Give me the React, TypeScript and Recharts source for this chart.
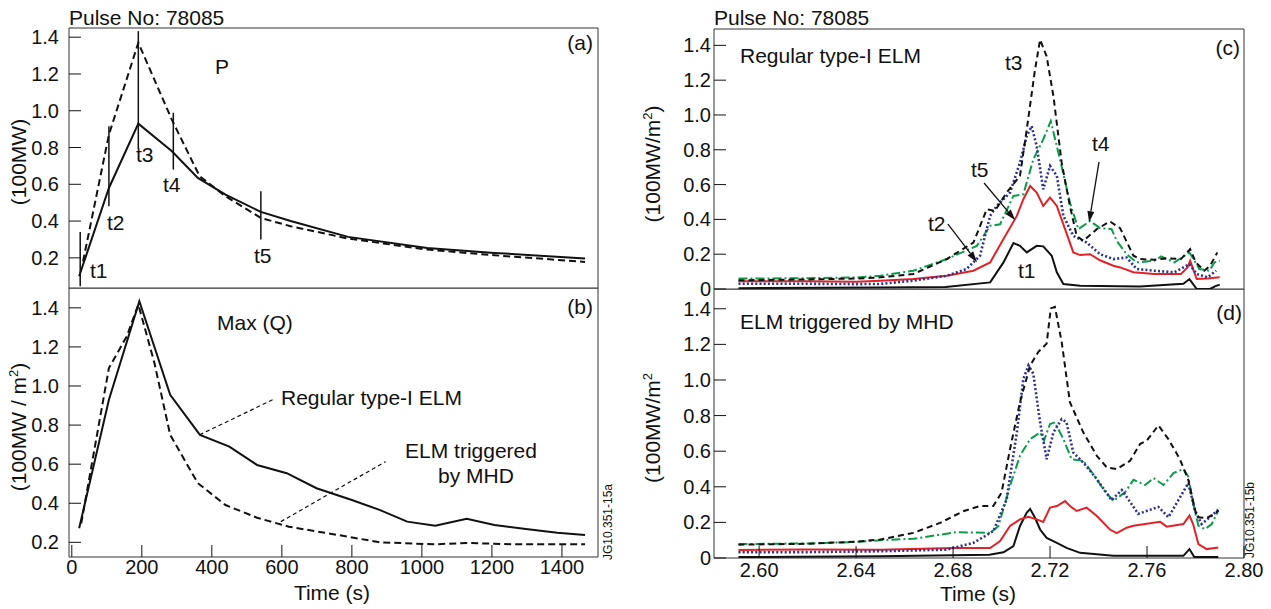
import React from "react";
import { LineChart, Line, XAxis, YAxis, ReferenceArea, ReferenceLine } from "recharts";

// ---------- panel (a): P, regular ELM (solid) vs MHD-triggered (dashed)
const aSolidTime = [21, 106, 190, 286, 360, 439, 540, 625, 789, 1015, 1207, 1466];
const aSolidVal = [0.1, 0.58, 0.93, 0.78, 0.635, 0.544, 0.45, 0.4, 0.314, 0.254, 0.227, 0.196];
const aDashTime = [32, 106, 190, 286, 365, 439, 540, 625, 789, 1015, 1207, 1466];
const aDashVal = [0.18, 0.87, 1.37, 0.95, 0.644, 0.535, 0.417, 0.372, 0.305, 0.245, 0.214, 0.178];

// time markers t1..t5 drawn on panel (a)
const markTime = [24, 106, 190, 290, 540];
const markTop = [0.341, 0.916, 1.433, 0.989, 0.562];
const markBottom = [0.045, 0.48, 0.79, 0.68, 0.3];

// ---------- panel (b): Max(Q)
const bSolidTime = [21, 106, 193, 281, 366, 450, 529, 614, 699, 800, 879, 958, 1038, 1128, 1207, 1297, 1387, 1466];
const bSolidVal = [0.272, 0.93, 1.434, 0.955, 0.75, 0.69, 0.596, 0.554, 0.477, 0.417, 0.366, 0.306, 0.285, 0.32, 0.289, 0.268, 0.249, 0.237];
const bDashTime = [27, 106, 157, 190, 236, 281, 360, 439, 529, 620, 789, 879, 1038, 1128, 1263, 1466];
const bDashVal = [0.297, 1.092, 1.254, 1.417, 1.118, 0.75, 0.503, 0.391, 0.326, 0.28, 0.229, 0.2, 0.19, 0.197, 0.19, 0.19];

// ---------- panel (c): regular type-I ELM profiles
const cT1Time = [2.5915, 2.65, 2.677, 2.6953, 2.7008, 2.7049, 2.7076, 2.7104, 2.7145, 2.7172, 2.7207, 2.7228, 2.7255, 2.7324, 2.7571, 2.775, 2.7775, 2.7805, 2.786, 2.788, 2.79];
const cT1Val = [0.005, 0.008, 0.012, 0.038, 0.153, 0.264, 0.248, 0.21, 0.248, 0.245, 0.191, 0.096, 0.029, 0.019, 0.015, 0.03, 0.057, 0.0, 0.0, 0.015, 0.025];
const cT2Time = [2.5915, 2.62, 2.64, 2.65, 2.6636, 2.6774, 2.6856, 2.6911, 2.6953, 2.698, 2.7035, 2.7076, 2.7104, 2.7124, 2.7145, 2.7172, 2.72, 2.7228, 2.7255, 2.7296, 2.7351, 2.7406, 2.7461, 2.7516, 2.7557, 2.763, 2.7713, 2.7775, 2.7805, 2.785, 2.7885];
const cT2Val = [0.03, 0.03, 0.028, 0.029, 0.048, 0.076, 0.115, 0.191, 0.42, 0.477, 0.554, 0.726, 0.879, 0.936, 0.821, 0.573, 0.707, 0.65, 0.42, 0.305, 0.267, 0.2, 0.172, 0.181, 0.115, 0.105, 0.096, 0.143, 0.086, 0.067, 0.105];
const cT3Time = [2.5915, 2.62, 2.64, 2.65, 2.6636, 2.6774, 2.6884, 2.6939, 2.6973, 2.7021, 2.7076, 2.7104, 2.7138, 2.7159, 2.7186, 2.7214, 2.7248, 2.7282, 2.731, 2.7337, 2.7393, 2.7447, 2.7489, 2.7544, 2.7571, 2.763, 2.768, 2.774, 2.7778, 2.7801, 2.7836, 2.786, 2.789];
const cT3Val = [0.05, 0.055, 0.06, 0.067, 0.086, 0.172, 0.267, 0.458, 0.449, 0.554, 0.65, 0.917, 1.26, 1.433, 1.337, 1.108, 0.726, 0.477, 0.305, 0.277, 0.344, 0.388, 0.35, 0.191, 0.172, 0.168, 0.176, 0.172, 0.229, 0.153, 0.105, 0.134, 0.21];
const cT4Time = [2.5915, 2.62, 2.64, 2.65, 2.6636, 2.6774, 2.6898, 2.6953, 2.6994, 2.7049, 2.709, 2.7131, 2.7172, 2.7203, 2.7241, 2.7282, 2.7317, 2.7365, 2.7406, 2.7454, 2.7475, 2.7516, 2.7557, 2.763, 2.7658, 2.7713, 2.7775, 2.7816, 2.7857, 2.7878, 2.79];
const cT4Val = [0.06, 0.062, 0.066, 0.076, 0.105, 0.172, 0.248, 0.363, 0.372, 0.535, 0.544, 0.745, 0.86, 0.965, 0.745, 0.497, 0.344, 0.391, 0.35, 0.344, 0.277, 0.2, 0.153, 0.162, 0.187, 0.153, 0.21, 0.115, 0.105, 0.153, 0.162];
const cT5Time = [2.5915, 2.62, 2.64, 2.65, 2.6636, 2.6774, 2.6884, 2.6953, 2.7008, 2.7063, 2.709, 2.7118, 2.7145, 2.7172, 2.72, 2.7228, 2.7262, 2.7296, 2.7324, 2.7365, 2.7406, 2.7461, 2.7489, 2.7544, 2.763, 2.774, 2.7767, 2.7778, 2.7805, 2.785, 2.79];
const cT5Val = [0.045, 0.045, 0.042, 0.048, 0.057, 0.076, 0.105, 0.153, 0.287, 0.42, 0.516, 0.592, 0.554, 0.477, 0.525, 0.477, 0.344, 0.21, 0.195, 0.2, 0.165, 0.134, 0.124, 0.096, 0.086, 0.086, 0.124, 0.162, 0.057, 0.06, 0.067];

// ---------- panel (d): ELM triggered by MHD
const dT1Time = [2.5915, 2.65, 2.695, 2.7008, 2.7049, 2.7076, 2.7104, 2.7118, 2.7138, 2.7159, 2.7186, 2.7228, 2.7268, 2.7324, 2.7461, 2.775, 2.7775, 2.7795, 2.7894];
const dT1Val = [0.005, 0.01, 0.018, 0.032, 0.067, 0.18, 0.255, 0.275, 0.226, 0.16, 0.113, 0.085, 0.057, 0.029, 0.012, 0.012, 0.05, 0.005, 0.005];
const dT2Time = [2.5915, 2.62, 2.65, 2.6774, 2.6884, 2.6966, 2.7021, 2.7063, 2.709, 2.7111, 2.7131, 2.7159, 2.7186, 2.7214, 2.7248, 2.7268, 2.7296, 2.7337, 2.7393, 2.7454, 2.7496, 2.753, 2.7564, 2.7647, 2.7688, 2.7729, 2.777, 2.7798, 2.7825, 2.7859, 2.7894];
const dT2Val = [0.032, 0.033, 0.038, 0.047, 0.085, 0.151, 0.329, 0.705, 1.006, 1.082, 1.035, 0.762, 0.555, 0.705, 0.78, 0.762, 0.592, 0.536, 0.443, 0.325, 0.382, 0.315, 0.248, 0.287, 0.229, 0.324, 0.42, 0.267, 0.191, 0.229, 0.271];
const dT3Time = [2.5915, 2.62, 2.64, 2.65, 2.6636, 2.6746, 2.6842, 2.6911, 2.6966, 2.7, 2.7035, 2.7076, 2.7118, 2.7152, 2.7186, 2.7203, 2.722, 2.7248, 2.7282, 2.7337, 2.7393, 2.7434, 2.7475, 2.753, 2.7571, 2.7599, 2.7647, 2.7688, 2.7736, 2.777, 2.7805, 2.7846, 2.788, 2.7894];
const dT3Val = [0.075, 0.08, 0.092, 0.104, 0.141, 0.197, 0.263, 0.292, 0.292, 0.367, 0.612, 0.875, 1.082, 1.158, 1.204, 1.402, 1.411, 1.214, 0.875, 0.706, 0.574, 0.509, 0.499, 0.546, 0.64, 0.659, 0.745, 0.668, 0.554, 0.439, 0.229, 0.225, 0.248, 0.267];
const dT4Time = [2.5915, 2.62, 2.64, 2.65, 2.6636, 2.6815, 2.6953, 2.6987, 2.7035, 2.7076, 2.7118, 2.7159, 2.7175, 2.72, 2.722, 2.7255, 2.7289, 2.7337, 2.7379, 2.742, 2.7461, 2.751, 2.7544, 2.7592, 2.7627, 2.7668, 2.7709, 2.775, 2.777, 2.7791, 2.7812, 2.7839, 2.7867, 2.7894];
const dT4Val = [0.078, 0.082, 0.09, 0.1, 0.108, 0.145, 0.141, 0.179, 0.405, 0.575, 0.668, 0.705, 0.659, 0.753, 0.762, 0.668, 0.555, 0.546, 0.47, 0.385, 0.32, 0.37, 0.439, 0.41, 0.449, 0.41, 0.477, 0.5, 0.458, 0.305, 0.181, 0.162, 0.191, 0.267];
const dT5Time = [2.5915, 2.62, 2.65, 2.6801, 2.6953, 2.6994, 2.7035, 2.7076, 2.7111, 2.7145, 2.7172, 2.72, 2.7228, 2.7262, 2.7282, 2.731, 2.7351, 2.7393, 2.7447, 2.7475, 2.7516, 2.7544, 2.7654, 2.7681, 2.775, 2.7775, 2.779, 2.7812, 2.7846, 2.7894];
const dT5Val = [0.045, 0.048, 0.046, 0.056, 0.056, 0.095, 0.18, 0.217, 0.232, 0.217, 0.202, 0.283, 0.292, 0.32, 0.292, 0.264, 0.283, 0.236, 0.16, 0.14, 0.17, 0.181, 0.204, 0.176, 0.191, 0.238, 0.191, 0.078, 0.05, 0.059];

// axis ticks
const leftXTicks = [0, 200, 400, 600, 800, 1000, 1200, 1400];
const leftYTicks = [0.2, 0.4, 0.6, 0.8, 1.0, 1.2, 1.4];
const rightXTicks = [2.6, 2.64, 2.68, 2.72, 2.76, 2.8];
const rightYTicks = [0, 0.2, 0.4, 0.6, 0.8, 1.0, 1.2, 1.4];

const leftXDom: [number, number] = [-8, 1503];
const rightXDom: [number, number] = [2.5814, 2.8];

const FONT = '"Liberation Sans", Arial, Helvetica, sans-serif';
const INK = "#111";
const tickStyle = { fontSize: 20, fill: INK };

type Pt = { x: number; y: number };
const zip = (xs: number[], ys: number[]): Pt[] => xs.map((x, i) => ({ x, y: ys[i] }));

const fmt1 = (v: number) => v.toFixed(1);
const fmtR = (v: number) => (v === 0 ? "0" : v.toFixed(1));
const noLabel = () => <g />;

// closed box round the plot area
const frame = (xd: [number, number], yd: [number, number]) => (
  <ReferenceArea x1={xd[0]} x2={xd[1]} y1={yd[0]} y2={yd[1]} fill="none" stroke="#333" strokeWidth={1} ifOverflow="visible" />
);

// line with a filled arrowhead at its end point
const arrowShape = (p: any) => {
  const { x1, y1, x2, y2 } = p;
  const a = Math.atan2(y2 - y1, x2 - x1);
  const len = 11;
  const half = 3.5;
  const bx = x2 - len * Math.cos(a);
  const by = y2 - len * Math.sin(a);
  const nx = -Math.sin(a) * half;
  const ny = Math.cos(a) * half;
  return (
    <g>
      <line x1={x1} y1={y1} x2={bx} y2={by} stroke={INK} strokeWidth={1.3} />
      <polygon points={`${x2},${y2} ${bx + nx},${by + ny} ${bx - nx},${by - ny}`} fill={INK} />
    </g>
  );
};

// annotation arrows in (c): [fromTime, fromVal, toTime, toVal]
const cArrows = [
  [2.6779, 0.373, 2.6899, 0.154],
  [2.6928, 0.609, 2.7056, 0.396],
  [2.7402, 0.73, 2.7361, 0.384],
];
// dashed leader lines in (b)
const bLeaders = [
  [365, 0.75, 574, 0.93],
  [597, 0.306, 896, 0.613],
];

const solid = { stroke: INK, strokeWidth: 2, dot: false, isAnimationActive: false } as const;

export default function App() {
  const ySup = (label: string, close: boolean) => (
    <>
      {label}
      <tspan dy={-8} fontSize={13}>2</tspan>
      {close ? <tspan dy={8}>)</tspan> : <tspan dy={8}> </tspan>}
    </>
  );

  return (
    <div style={{ position: "absolute", left: 0, top: 0, width: 1271, height: 609, background: "#fff", fontFamily: FONT }}>
      {/* (a) */}
      <div style={{ position: "absolute", left: 0, top: 0 }}>
        <LineChart width={620} height={290} margin={{ top: 28, right: 22, bottom: 2, left: 9 }}>
          <XAxis type="number" dataKey="x" domain={leftXDom} ticks={leftXTicks.slice(1)} interval={0} tick={noLabel} tickSize={-7} axisLine={false} tickLine={{ stroke: INK }} height={0} allowDataOverflow />
          <YAxis type="number" dataKey="y" domain={[0.036, 1.45]} ticks={leftYTicks} interval={0} tickFormatter={fmt1} tick={tickStyle} tickSize={-12} tickMargin={22} tickLine={{ stroke: INK }} axisLine={false} width={60} allowDataOverflow />
          {frame(leftXDom, [0.036, 1.45])}
          {markTime.map((t, i) => (
            <ReferenceLine key={i} segment={[{ x: t, y: markTop[i] }, { x: t, y: markBottom[i] }]} stroke={INK} strokeWidth={1.5} ifOverflow="visible" />
          ))}
          <Line data={zip(aDashTime, aDashVal)} dataKey="y" {...solid} strokeDasharray="7 4" />
          <Line data={zip(aSolidTime, aSolidVal)} dataKey="y" {...solid} />
        </LineChart>
      </div>

      {/* (b) */}
      <div style={{ position: "absolute", left: 0, top: 288 }}>
        <LineChart width={620} height={321} margin={{ top: 0, right: 22, bottom: 0, left: 9 }}>
          <XAxis type="number" dataKey="x" domain={leftXDom} ticks={leftXTicks} interval={0} tick={tickStyle} tickSize={-12} tickMargin={15} axisLine={false} tickLine={{ stroke: INK }} height={52} allowDataOverflow />
          <YAxis type="number" dataKey="y" domain={[0.125, 1.5015]} ticks={leftYTicks} interval={0} tickFormatter={fmt1} tick={tickStyle} tickSize={-12} tickMargin={22} tickLine={{ stroke: INK }} axisLine={false} width={60} allowDataOverflow />
          {frame(leftXDom, [0.125, 1.5015])}
          {bLeaders.map((s, i) => (
            <ReferenceLine key={i} segment={[{ x: s[0], y: s[1] }, { x: s[2], y: s[3] }]} stroke={INK} strokeWidth={1.2} strokeDasharray="4 3" ifOverflow="visible" />
          ))}
          <Line data={zip(bDashTime, bDashVal)} dataKey="y" {...solid} strokeDasharray="7 4" />
          <Line data={zip(bSolidTime, bSolidVal)} dataKey="y" {...solid} />
        </LineChart>
      </div>

      {/* (c) */}
      <div style={{ position: "absolute", left: 620, top: 0 }}>
        <LineChart width={651} height={300} margin={{ top: 29, right: 27, bottom: 11, left: 30 }}>
          <XAxis type="number" dataKey="x" domain={rightXDom} hide height={0} allowDataOverflow />
          <YAxis type="number" dataKey="y" domain={[0, 1.494]} ticks={rightYTicks} interval={0} tickFormatter={fmtR} tick={tickStyle} tickSize={-12} tickMargin={15} tickLine={{ stroke: INK }} axisLine={false} width={64} allowDataOverflow />
          {frame(rightXDom, [0, 1.494])}
          <Line data={zip(cT1Time, cT1Val)} dataKey="y" {...solid} />
          <Line data={zip(cT5Time, cT5Val)} dataKey="y" {...solid} stroke="#e32227" />
          <Line data={zip(cT4Time, cT4Val)} dataKey="y" {...solid} stroke="#0a9c4a" strokeDasharray="9 3 2 3" />
          <Line data={zip(cT2Time, cT2Val)} dataKey="y" {...solid} stroke="#2e3192" strokeWidth={2.6} strokeDasharray="2 2.2" />
          <Line data={zip(cT3Time, cT3Val)} dataKey="y" {...solid} strokeDasharray="6 4" />
          {cArrows.map((s, i) => (
            <ReferenceLine key={i} segment={[{ x: s[0], y: s[1] }, { x: s[2], y: s[3] }]} shape={arrowShape} ifOverflow="visible" />
          ))}
        </LineChart>
      </div>

      {/* (d) */}
      <div style={{ position: "absolute", left: 620, top: 289 }}>
        <LineChart width={651} height={320} margin={{ top: 0, right: 27, bottom: 0, left: 30 }}>
          <XAxis type="number" dataKey="x" domain={rightXDom} ticks={rightXTicks} interval={0} tickFormatter={(v: number) => v.toFixed(2)} tick={tickStyle} tickSize={-12} tickMargin={17} axisLine={false} tickLine={{ stroke: INK }} height={51} allowDataOverflow />
          <YAxis type="number" dataKey="y" domain={[0, 1.511]} ticks={rightYTicks} interval={0} tickFormatter={fmtR} tick={tickStyle} tickSize={-12} tickMargin={15} tickLine={{ stroke: INK }} axisLine={false} width={64} allowDataOverflow />
          {frame(rightXDom, [0, 1.511])}
          <Line data={zip(dT1Time, dT1Val)} dataKey="y" {...solid} />
          <Line data={zip(dT5Time, dT5Val)} dataKey="y" {...solid} stroke="#e32227" />
          <Line data={zip(dT4Time, dT4Val)} dataKey="y" {...solid} stroke="#0a9c4a" strokeDasharray="9 3 2 3" />
          <Line data={zip(dT2Time, dT2Val)} dataKey="y" {...solid} stroke="#2e3192" strokeWidth={2.6} strokeDasharray="2 2.2" />
          <Line data={zip(dT3Time, dT3Val)} dataKey="y" {...solid} strokeDasharray="6 4" />
        </LineChart>
      </div>

      {/* titles, panel tags and annotations */}
      <svg width={1271} height={609} style={{ position: "absolute", left: 0, top: 0, pointerEvents: "none" }} fontFamily={FONT} fontSize={21} fill={INK}>
        <text x={69} y={25}>Pulse No: 78085</text>
        <text x={714} y={25}>Pulse No: 78085</text>

        <text x={593} y={50} textAnchor="end">(a)</text>
        <text x={215} y={74}>P</text>
        <text x={90} y={278}>t1</text>
        <text x={107} y={230}>t2</text>
        <text x={136} y={162}>t3</text>
        <text x={163} y={192}>t4</text>
        <text x={254} y={263}>t5</text>

        <text x={593} y={314} textAnchor="end">(b)</text>
        <text x={217} y={330}>Max (Q)</text>
        <text x={281} y={405}>Regular type-I ELM</text>
        <text x={471} y={458} textAnchor="middle">ELM triggered</text>
        <text x={476} y={483} textAnchor="middle">by MHD</text>

        <text x={740} y={63}>Regular type-I ELM</text>
        <text x={1240} y={55} textAnchor="end">(c)</text>
        <text x={1005} y={70}>t3</text>
        <text x={1092} y={151}>t4</text>
        <text x={971} y={177}>t5</text>
        <text x={928} y={231}>t2</text>
        <text x={1018} y={278}>t1</text>

        <text x={740} y={329}>ELM triggered by MHD</text>
        <text x={1242} y={320} textAnchor="end">(d)</text>

        <text transform="translate(26,162) rotate(-90)" textAnchor="middle">(100MW)</text>
        <text transform="translate(26,427) rotate(-90)" textAnchor="middle">{ySup("(100MW / m", true)}</text>
        <text transform="translate(660,164) rotate(-90)" textAnchor="middle">{ySup("(100MW/m", true)}</text>
        <text transform="translate(660,428) rotate(-90)" textAnchor="middle">{ySup("(100MW/m", false)}</text>

        <text x={332} y={600} textAnchor="middle">Time (s)</text>
        <text x={978} y={601} textAnchor="middle">Time (s)</text>

        <text transform="translate(612,522) rotate(-90)" textAnchor="middle" fontSize={12}>JG10.351-15a</text>
        <text transform="translate(1254,520) rotate(-90)" textAnchor="middle" fontSize={12}>JG10.351-15b</text>
      </svg>
    </div>
  );
}
